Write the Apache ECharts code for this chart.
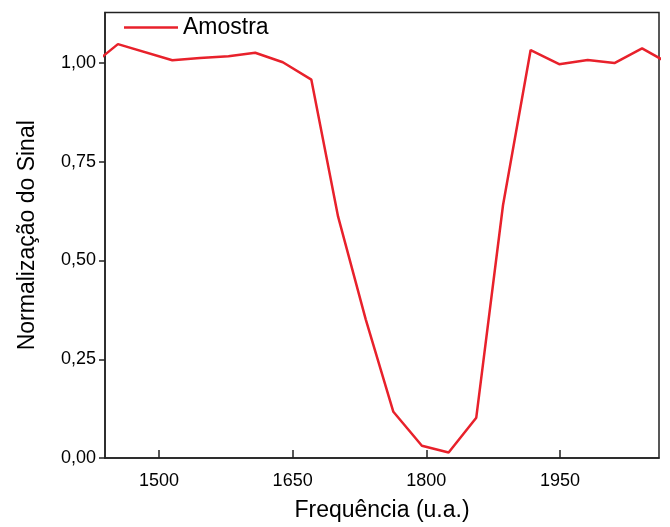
<!DOCTYPE html>
<html>
<head>
<meta charset="utf-8">
<script src="https://cdn.jsdelivr.net/npm/echarts@6/dist/echarts.min.js"></script>
<style>
  html, body { margin: 0; padding: 0; background: #fff; }
  #chart { width: 670px; height: 527px; }
</style>
</head>
<body>
<div id="chart"></div>
<script>
const frequencies = [1423, 1454, 1515, 1546, 1578, 1608, 1639, 1671, 1701, 1732, 1763, 1795, 1825, 1856, 1886, 1917, 1949, 1981, 2011, 2042, 2073];
const amostra = [0.991, 1.048, 1.007, 1.013, 1.017, 1.026, 1.002, 0.958, 0.611, 0.351, 0.117, 0.031, 0.014, 0.102, 0.640, 1.033, 0.997, 1.008, 1.000, 1.037, 0.998];
const xTicks = [1500, 1650, 1800, 1950];
const yTicks = [0, 0.25, 0.5, 0.75, 1];

(() => {
  const font = "'Liberation Sans', Arial, sans-serif";
  const axisColor = "#222";
  const red = "#e8212b";
  const chart = echarts.init(document.getElementById("chart"), null, { renderer: "canvas" });
  chart.setOption({
    animation: false,
    textStyle: { fontFamily: font, color: "#000" },
    grid: { left: 105, right: 11, top: 12.5, bottom: 65.5, show: true, borderColor: axisColor, borderWidth: 1.5, containLabel: false },
    legend: {
      left: 124, top: 16, padding: 0,
      icon: "rect", itemWidth: 54, itemHeight: 2.5,
      itemStyle: { color: red },
      textStyle: { fontFamily: font, fontSize: 23, color: "#000" },
      data: ["Amostra"]
    },
    xAxis: {
      type: "value", min: 1439.5, max: 2061,
      name: "Frequência (u.a.)", nameLocation: "middle", nameGap: 41,
      nameTextStyle: { fontFamily: font, fontSize: 23, color: "#000" },
      axisLine: { show: true, lineStyle: { color: axisColor, width: 1.5 } },
      axisTick: { show: true, inside: true, length: 8, customValues: xTicks, lineStyle: { color: axisColor, width: 1.5 } },
      axisLabel: { customValues: xTicks, margin: 14, fontSize: 18, color: "#000", fontFamily: font, formatter: v => String(v) },
      splitLine: { show: false }
    },
    yAxis: {
      type: "value", min: 0, max: 1.128, interval: 0.25,
      name: "Normalização do Sinal", nameLocation: "middle", nameGap: 66, nameRotate: 90,
      nameTextStyle: { fontFamily: font, fontSize: 23, color: "#000" },
      axisLine: { show: true, lineStyle: { color: axisColor, width: 1.5 } },
      axisTick: { show: true, inside: false, length: 6, customValues: yTicks, lineStyle: { color: axisColor, width: 1.5 } },
      axisLabel: {
        customValues: yTicks, margin: 9, fontSize: 18, color: "#000", fontFamily: font,
        formatter: v => v.toFixed(2).replace(".", ",")
      },
      splitLine: { show: false }
    },
    series: [{
      name: "Amostra", type: "line",
      data: frequencies.map((f, i) => [f, amostra[i]]),
      symbol: "none", clip: true,
      lineStyle: { color: red, width: 2.5 },
      itemStyle: { color: red }
    }]
  });
})();
</script>
</body>
</html>
